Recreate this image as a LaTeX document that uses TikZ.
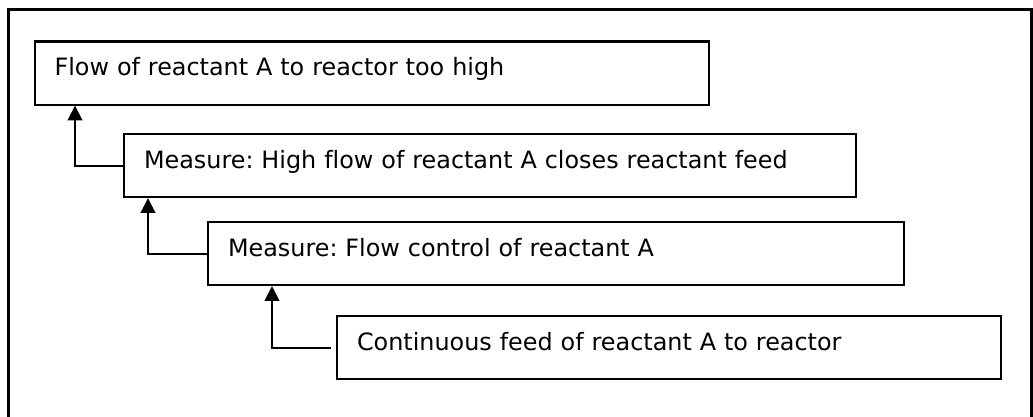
\documentclass[tikz,border=0pt]{standalone}
\usepackage{fontspec}
\setmainfont[Ligatures=CommonOff]{DejaVu Sans}
\usepackage{tikz}
\usetikzlibrary{arrows.meta,calc}
\frenchspacing

\begin{document}
\begin{tikzpicture}[
  x=0.75pt, y=-0.75pt,
  every node/.style={font=\fontsize{17.9}{21}\selectfont},
  event/.style={rectangle, draw=black, line width=1.6pt, anchor=north west, align=left,
    inner xsep=15pt, inner ysep=0pt, text height=25.6pt, text depth=21.7pt},
  arrow/.style={-{Triangle[length=11pt, width=11pt]}, line width=1.4pt}
]
\clip (0,0) rectangle (1033,417);
% frame, open at the bottom
\draw[line width=1.7pt] (8.5,430) |- (1031.5,9.5) -- (1031.5,430);

\node[event, text width=475.9pt] (top) at (33.5,40.5) {Flow of reactant A to reactor too high};
\node[event, text width=519pt] (highflow) at (123,133) {Measure: High flow of reactant A closes reactant feed};
\node[event, text width=492pt] (flowctrl) at (207,221) {Measure: Flow control of reactant A};
\node[event, text width=468pt] (feed) at (336,315) {Continuous feed of reactant A to reactor};

\draw[arrow] (highflow.west) -| ($(top.south west)+(41.5,0)$);
\draw[arrow] (flowctrl.west) -| ($(highflow.south west)+(25,0)$);
\draw[arrow, shorten <=4pt] (feed.west) -| ($(flowctrl.south west)+(65,0)$);
\end{tikzpicture}
\end{document}
